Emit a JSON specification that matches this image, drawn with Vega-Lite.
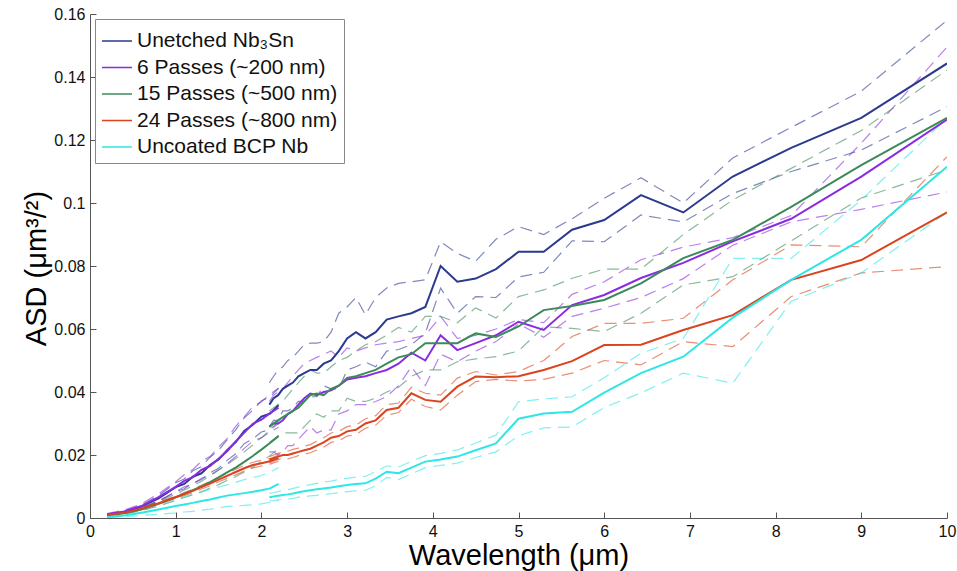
{
  "$schema": "https://vega.github.io/schema/vega-lite/v6.json",
  "width": 857,
  "height": 504,
  "autosize": {"type": "none"},
  "padding": {"left": 90, "top": 14, "right": 10, "bottom": 53},
  "background": "white",
  "config": {
    "view": {"stroke": null},
    "font": "Liberation Sans",
    "axis": {
      "grid": false,
      "domainColor": "#555555",
      "tickColor": "#555555",
      "tickSize": -6,
      "labelColor": "#111111",
      "labelFontSize": 16,
      "labelFlush": false,
      "labelOverlap": false,
      "titleColor": "#000000",
      "titleFontSize": 29,
      "titleFontWeight": "normal"
    },
    "legend": {
      "title": null,
      "orient": "top-left",
      "offset": 5,
      "padding": 6,
      "strokeColor": "#888888",
      "fillColor": "white",
      "symbolType": "stroke",
      "symbolSize": 900,
      "symbolStrokeWidth": 1.5,
      "labelFont": "Liberation Sans",
      "labelFontSize": 21,
      "labelColor": "#111111",
      "labelOffset": 4,
      "labelLimit": 400,
      "rowPadding": 0.5
    }
  },
  "data": {
    "values": [
      {"s": "Unetched Nb₃Sn", "g": "a", "x": 0.2, "m": 0.001, "u": 0.0012, "l": 0.0008},
      {"s": "Unetched Nb₃Sn", "g": "a", "x": 0.4, "m": 0.0019, "u": 0.0022, "l": 0.0016},
      {"s": "Unetched Nb₃Sn", "g": "a", "x": 0.6, "m": 0.0036, "u": 0.0041, "l": 0.0031},
      {"s": "Unetched Nb₃Sn", "g": "a", "x": 0.8, "m": 0.0062, "u": 0.0071, "l": 0.0053},
      {"s": "Unetched Nb₃Sn", "g": "a", "x": 1.0, "m": 0.0098, "u": 0.0112, "l": 0.0084},
      {"s": "Unetched Nb₃Sn", "g": "a", "x": 1.1, "m": 0.0108, "u": 0.0124, "l": 0.0093},
      {"s": "Unetched Nb₃Sn", "g": "a", "x": 1.2, "m": 0.0131, "u": 0.015, "l": 0.0111},
      {"s": "Unetched Nb₃Sn", "g": "a", "x": 1.3, "m": 0.0142, "u": 0.0163, "l": 0.0122},
      {"s": "Unetched Nb₃Sn", "g": "a", "x": 1.4, "m": 0.0168, "u": 0.0193, "l": 0.0143},
      {"s": "Unetched Nb₃Sn", "g": "a", "x": 1.5, "m": 0.0186, "u": 0.0215, "l": 0.0158},
      {"s": "Unetched Nb₃Sn", "g": "a", "x": 1.6, "m": 0.0215, "u": 0.0248, "l": 0.0183},
      {"s": "Unetched Nb₃Sn", "g": "a", "x": 1.7, "m": 0.0241, "u": 0.028, "l": 0.0204},
      {"s": "Unetched Nb₃Sn", "g": "a", "x": 1.8, "m": 0.0276, "u": 0.0318, "l": 0.0236},
      {"s": "Unetched Nb₃Sn", "g": "a", "x": 1.9, "m": 0.0296, "u": 0.0342, "l": 0.0251},
      {"s": "Unetched Nb₃Sn", "g": "a", "x": 2.0, "m": 0.0322, "u": 0.0372, "l": 0.0273},
      {"s": "Unetched Nb₃Sn", "g": "a", "x": 2.1, "m": 0.0331, "u": 0.0384, "l": 0.0281},
      {"s": "Unetched Nb₃Sn", "g": "a", "x": 2.2, "m": 0.0358, "u": 0.0412, "l": 0.0305},
      {"s": "Unetched Nb₃Sn", "g": "b", "x": 2.093, "m": 0.036, "u": 0.043, "l": 0.029},
      {"s": "Unetched Nb₃Sn", "g": "b", "x": 2.143, "m": 0.038, "u": 0.045, "l": 0.031},
      {"s": "Unetched Nb₃Sn", "g": "b", "x": 2.195, "m": 0.039, "u": 0.047, "l": 0.031},
      {"s": "Unetched Nb₃Sn", "g": "b", "x": 2.25, "m": 0.041, "u": 0.048, "l": 0.034},
      {"s": "Unetched Nb₃Sn", "g": "b", "x": 2.308, "m": 0.042, "u": 0.05, "l": 0.034},
      {"s": "Unetched Nb₃Sn", "g": "b", "x": 2.368, "m": 0.043, "u": 0.051, "l": 0.035},
      {"s": "Unetched Nb₃Sn", "g": "b", "x": 2.432, "m": 0.045, "u": 0.053, "l": 0.037},
      {"s": "Unetched Nb₃Sn", "g": "b", "x": 2.5, "m": 0.046, "u": 0.055, "l": 0.037},
      {"s": "Unetched Nb₃Sn", "g": "b", "x": 2.571, "m": 0.047, "u": 0.0555, "l": 0.0385},
      {"s": "Unetched Nb₃Sn", "g": "b", "x": 2.647, "m": 0.047, "u": 0.0555, "l": 0.0385},
      {"s": "Unetched Nb₃Sn", "g": "b", "x": 2.727, "m": 0.049, "u": 0.056, "l": 0.042},
      {"s": "Unetched Nb₃Sn", "g": "b", "x": 2.813, "m": 0.05, "u": 0.059, "l": 0.041},
      {"s": "Unetched Nb₃Sn", "g": "b", "x": 2.903, "m": 0.053, "u": 0.065, "l": 0.041},
      {"s": "Unetched Nb₃Sn", "g": "b", "x": 3.0, "m": 0.057, "u": 0.067, "l": 0.047},
      {"s": "Unetched Nb₃Sn", "g": "b", "x": 3.103, "m": 0.059, "u": 0.07, "l": 0.048},
      {"s": "Unetched Nb₃Sn", "g": "b", "x": 3.214, "m": 0.057, "u": 0.0645, "l": 0.0495},
      {"s": "Unetched Nb₃Sn", "g": "b", "x": 3.333, "m": 0.059, "u": 0.07, "l": 0.048},
      {"s": "Unetched Nb₃Sn", "g": "b", "x": 3.462, "m": 0.063, "u": 0.073, "l": 0.053},
      {"s": "Unetched Nb₃Sn", "g": "b", "x": 3.6, "m": 0.064, "u": 0.0745, "l": 0.0535},
      {"s": "Unetched Nb₃Sn", "g": "b", "x": 3.75, "m": 0.065, "u": 0.075, "l": 0.055},
      {"s": "Unetched Nb₃Sn", "g": "b", "x": 3.913, "m": 0.067, "u": 0.0756, "l": 0.0587},
      {"s": "Unetched Nb₃Sn", "g": "b", "x": 4.091, "m": 0.08, "u": 0.0877, "l": 0.073},
      {"s": "Unetched Nb₃Sn", "g": "b", "x": 4.286, "m": 0.075, "u": 0.084, "l": 0.065},
      {"s": "Unetched Nb₃Sn", "g": "b", "x": 4.5, "m": 0.076, "u": 0.0815, "l": 0.0703},
      {"s": "Unetched Nb₃Sn", "g": "b", "x": 4.737, "m": 0.079, "u": 0.0885, "l": 0.07},
      {"s": "Unetched Nb₃Sn", "g": "b", "x": 5.0, "m": 0.0845, "u": 0.0925, "l": 0.0765},
      {"s": "Unetched Nb₃Sn", "g": "b", "x": 5.294, "m": 0.0845, "u": 0.09, "l": 0.078},
      {"s": "Unetched Nb₃Sn", "g": "b", "x": 5.625, "m": 0.0915, "u": 0.095, "l": 0.088},
      {"s": "Unetched Nb₃Sn", "g": "b", "x": 6.0, "m": 0.0946, "u": 0.1015, "l": 0.0877},
      {"s": "Unetched Nb₃Sn", "g": "b", "x": 6.429, "m": 0.1025, "u": 0.108, "l": 0.0962},
      {"s": "Unetched Nb₃Sn", "g": "b", "x": 6.923, "m": 0.097, "u": 0.1, "l": 0.094},
      {"s": "Unetched Nb₃Sn", "g": "b", "x": 7.5, "m": 0.1084, "u": 0.1143, "l": 0.103},
      {"s": "Unetched Nb₃Sn", "g": "b", "x": 8.182, "m": 0.1175, "u": 0.124, "l": 0.11},
      {"s": "Unetched Nb₃Sn", "g": "b", "x": 9.0, "m": 0.127, "u": 0.1355, "l": 0.1168},
      {"s": "Unetched Nb₃Sn", "g": "b", "x": 10.0, "m": 0.1443, "u": 0.158, "l": 0.1306},

      {"s": "6 Passes (~200 nm)", "g": "a", "x": 0.2, "m": 0.0012, "u": 0.0014, "l": 0.001},
      {"s": "6 Passes (~200 nm)", "g": "a", "x": 0.4, "m": 0.0021, "u": 0.0025, "l": 0.0017},
      {"s": "6 Passes (~200 nm)", "g": "a", "x": 0.6, "m": 0.0038, "u": 0.0045, "l": 0.0031},
      {"s": "6 Passes (~200 nm)", "g": "a", "x": 0.8, "m": 0.0066, "u": 0.0077, "l": 0.0055},
      {"s": "6 Passes (~200 nm)", "g": "a", "x": 1.0, "m": 0.0099, "u": 0.0115, "l": 0.0083},
      {"s": "6 Passes (~200 nm)", "g": "a", "x": 1.1, "m": 0.0118, "u": 0.0137, "l": 0.0099},
      {"s": "6 Passes (~200 nm)", "g": "a", "x": 1.2, "m": 0.013, "u": 0.0154, "l": 0.0107},
      {"s": "6 Passes (~200 nm)", "g": "a", "x": 1.3, "m": 0.0153, "u": 0.018, "l": 0.0126},
      {"s": "6 Passes (~200 nm)", "g": "a", "x": 1.4, "m": 0.0165, "u": 0.0195, "l": 0.0136},
      {"s": "6 Passes (~200 nm)", "g": "a", "x": 1.5, "m": 0.0188, "u": 0.0225, "l": 0.0152},
      {"s": "6 Passes (~200 nm)", "g": "a", "x": 1.6, "m": 0.0212, "u": 0.0252, "l": 0.0172},
      {"s": "6 Passes (~200 nm)", "g": "a", "x": 1.7, "m": 0.0243, "u": 0.0291, "l": 0.0195},
      {"s": "6 Passes (~200 nm)", "g": "a", "x": 1.8, "m": 0.0271, "u": 0.0321, "l": 0.0221},
      {"s": "6 Passes (~200 nm)", "g": "a", "x": 1.9, "m": 0.0299, "u": 0.0354, "l": 0.0244},
      {"s": "6 Passes (~200 nm)", "g": "a", "x": 2.0, "m": 0.0312, "u": 0.0369, "l": 0.0255},
      {"s": "6 Passes (~200 nm)", "g": "a", "x": 2.1, "m": 0.0333, "u": 0.0393, "l": 0.0273},
      {"s": "6 Passes (~200 nm)", "g": "a", "x": 2.2, "m": 0.035, "u": 0.0412, "l": 0.0288},
      {"s": "6 Passes (~200 nm)", "g": "b", "x": 2.093, "m": 0.029, "u": 0.037, "l": 0.021},
      {"s": "6 Passes (~200 nm)", "g": "b", "x": 2.143, "m": 0.03, "u": 0.039, "l": 0.021},
      {"s": "6 Passes (~200 nm)", "g": "b", "x": 2.195, "m": 0.03, "u": 0.04, "l": 0.02},
      {"s": "6 Passes (~200 nm)", "g": "b", "x": 2.25, "m": 0.031, "u": 0.041, "l": 0.021},
      {"s": "6 Passes (~200 nm)", "g": "b", "x": 2.308, "m": 0.033, "u": 0.043, "l": 0.023},
      {"s": "6 Passes (~200 nm)", "g": "b", "x": 2.368, "m": 0.034, "u": 0.045, "l": 0.023},
      {"s": "6 Passes (~200 nm)", "g": "b", "x": 2.432, "m": 0.036, "u": 0.047, "l": 0.025},
      {"s": "6 Passes (~200 nm)", "g": "b", "x": 2.5, "m": 0.038, "u": 0.049, "l": 0.027},
      {"s": "6 Passes (~200 nm)", "g": "b", "x": 2.571, "m": 0.0395, "u": 0.05, "l": 0.029},
      {"s": "6 Passes (~200 nm)", "g": "b", "x": 2.647, "m": 0.039, "u": 0.051, "l": 0.027},
      {"s": "6 Passes (~200 nm)", "g": "b", "x": 2.727, "m": 0.04, "u": 0.052, "l": 0.028},
      {"s": "6 Passes (~200 nm)", "g": "b", "x": 2.813, "m": 0.0405, "u": 0.053, "l": 0.028},
      {"s": "6 Passes (~200 nm)", "g": "b", "x": 2.903, "m": 0.042, "u": 0.051, "l": 0.033},
      {"s": "6 Passes (~200 nm)", "g": "b", "x": 3.0, "m": 0.044, "u": 0.054, "l": 0.034},
      {"s": "6 Passes (~200 nm)", "g": "b", "x": 3.103, "m": 0.0445, "u": 0.053, "l": 0.036},
      {"s": "6 Passes (~200 nm)", "g": "b", "x": 3.214, "m": 0.045, "u": 0.054, "l": 0.036},
      {"s": "6 Passes (~200 nm)", "g": "b", "x": 3.333, "m": 0.046, "u": 0.055, "l": 0.037},
      {"s": "6 Passes (~200 nm)", "g": "b", "x": 3.462, "m": 0.047, "u": 0.0555, "l": 0.0385},
      {"s": "6 Passes (~200 nm)", "g": "b", "x": 3.6, "m": 0.049, "u": 0.056, "l": 0.042},
      {"s": "6 Passes (~200 nm)", "g": "b", "x": 3.75, "m": 0.0525, "u": 0.057, "l": 0.048},
      {"s": "6 Passes (~200 nm)", "g": "b", "x": 3.913, "m": 0.05, "u": 0.058, "l": 0.042},
      {"s": "6 Passes (~200 nm)", "g": "b", "x": 4.091, "m": 0.058, "u": 0.064, "l": 0.052},
      {"s": "6 Passes (~200 nm)", "g": "b", "x": 4.286, "m": 0.0533, "u": 0.057, "l": 0.0496},
      {"s": "6 Passes (~200 nm)", "g": "b", "x": 4.5, "m": 0.0555, "u": 0.058, "l": 0.053},
      {"s": "6 Passes (~200 nm)", "g": "b", "x": 4.737, "m": 0.058, "u": 0.06, "l": 0.056},
      {"s": "6 Passes (~200 nm)", "g": "b", "x": 5.0, "m": 0.0623, "u": 0.063, "l": 0.0616},
      {"s": "6 Passes (~200 nm)", "g": "b", "x": 5.294, "m": 0.0597, "u": 0.062, "l": 0.0574},
      {"s": "6 Passes (~200 nm)", "g": "b", "x": 5.625, "m": 0.0676, "u": 0.071, "l": 0.064},
      {"s": "6 Passes (~200 nm)", "g": "b", "x": 6.0, "m": 0.0708, "u": 0.075, "l": 0.0666},
      {"s": "6 Passes (~200 nm)", "g": "b", "x": 6.429, "m": 0.0762, "u": 0.082, "l": 0.07},
      {"s": "6 Passes (~200 nm)", "g": "b", "x": 6.923, "m": 0.081, "u": 0.086, "l": 0.076},
      {"s": "6 Passes (~200 nm)", "g": "b", "x": 7.5, "m": 0.0878, "u": 0.089, "l": 0.0866},
      {"s": "6 Passes (~200 nm)", "g": "b", "x": 8.182, "m": 0.095, "u": 0.096, "l": 0.094},
      {"s": "6 Passes (~200 nm)", "g": "b", "x": 9.0, "m": 0.1084, "u": 0.119, "l": 0.098},
      {"s": "6 Passes (~200 nm)", "g": "b", "x": 10.0, "m": 0.1265, "u": 0.1495, "l": 0.1035},

      {"s": "15 Passes (~500 nm)", "g": "a", "x": 0.2, "m": 0.0008, "u": 0.0009, "l": 0.0007},
      {"s": "15 Passes (~500 nm)", "g": "a", "x": 0.4, "m": 0.0015, "u": 0.0017, "l": 0.0013},
      {"s": "15 Passes (~500 nm)", "g": "a", "x": 0.6, "m": 0.0027, "u": 0.0031, "l": 0.0023},
      {"s": "15 Passes (~500 nm)", "g": "a", "x": 0.8, "m": 0.0045, "u": 0.0052, "l": 0.0038},
      {"s": "15 Passes (~500 nm)", "g": "a", "x": 1.0, "m": 0.0066, "u": 0.0076, "l": 0.0056},
      {"s": "15 Passes (~500 nm)", "g": "a", "x": 1.1, "m": 0.0077, "u": 0.0089, "l": 0.0065},
      {"s": "15 Passes (~500 nm)", "g": "a", "x": 1.2, "m": 0.0088, "u": 0.0102, "l": 0.0074},
      {"s": "15 Passes (~500 nm)", "g": "a", "x": 1.3, "m": 0.01, "u": 0.0117, "l": 0.0083},
      {"s": "15 Passes (~500 nm)", "g": "a", "x": 1.4, "m": 0.0114, "u": 0.0133, "l": 0.0095},
      {"s": "15 Passes (~500 nm)", "g": "a", "x": 1.5, "m": 0.0129, "u": 0.0152, "l": 0.0106},
      {"s": "15 Passes (~500 nm)", "g": "a", "x": 1.6, "m": 0.0145, "u": 0.017, "l": 0.012},
      {"s": "15 Passes (~500 nm)", "g": "a", "x": 1.7, "m": 0.016, "u": 0.0189, "l": 0.0131},
      {"s": "15 Passes (~500 nm)", "g": "a", "x": 1.8, "m": 0.0178, "u": 0.021, "l": 0.0146},
      {"s": "15 Passes (~500 nm)", "g": "a", "x": 1.9, "m": 0.0197, "u": 0.0232, "l": 0.0162},
      {"s": "15 Passes (~500 nm)", "g": "a", "x": 2.0, "m": 0.0217, "u": 0.0255, "l": 0.0179},
      {"s": "15 Passes (~500 nm)", "g": "a", "x": 2.1, "m": 0.0238, "u": 0.0278, "l": 0.0198},
      {"s": "15 Passes (~500 nm)", "g": "a", "x": 2.2, "m": 0.026, "u": 0.03, "l": 0.022},
      {"s": "15 Passes (~500 nm)", "g": "b", "x": 2.093, "m": 0.029, "u": 0.034, "l": 0.024},
      {"s": "15 Passes (~500 nm)", "g": "b", "x": 2.143, "m": 0.03, "u": 0.035, "l": 0.025},
      {"s": "15 Passes (~500 nm)", "g": "b", "x": 2.195, "m": 0.031, "u": 0.036, "l": 0.026},
      {"s": "15 Passes (~500 nm)", "g": "b", "x": 2.25, "m": 0.032, "u": 0.037, "l": 0.027},
      {"s": "15 Passes (~500 nm)", "g": "b", "x": 2.308, "m": 0.033, "u": 0.039, "l": 0.027},
      {"s": "15 Passes (~500 nm)", "g": "b", "x": 2.368, "m": 0.034, "u": 0.041, "l": 0.027},
      {"s": "15 Passes (~500 nm)", "g": "b", "x": 2.432, "m": 0.035, "u": 0.043, "l": 0.027},
      {"s": "15 Passes (~500 nm)", "g": "b", "x": 2.5, "m": 0.037, "u": 0.045, "l": 0.029},
      {"s": "15 Passes (~500 nm)", "g": "b", "x": 2.571, "m": 0.039, "u": 0.047, "l": 0.031},
      {"s": "15 Passes (~500 nm)", "g": "b", "x": 2.647, "m": 0.0395, "u": 0.046, "l": 0.033},
      {"s": "15 Passes (~500 nm)", "g": "b", "x": 2.727, "m": 0.039, "u": 0.046, "l": 0.032},
      {"s": "15 Passes (~500 nm)", "g": "b", "x": 2.813, "m": 0.041, "u": 0.048, "l": 0.034},
      {"s": "15 Passes (~500 nm)", "g": "b", "x": 2.903, "m": 0.042, "u": 0.05, "l": 0.034},
      {"s": "15 Passes (~500 nm)", "g": "b", "x": 3.0, "m": 0.0445, "u": 0.051, "l": 0.038},
      {"s": "15 Passes (~500 nm)", "g": "b", "x": 3.103, "m": 0.045, "u": 0.053, "l": 0.037},
      {"s": "15 Passes (~500 nm)", "g": "b", "x": 3.214, "m": 0.046, "u": 0.055, "l": 0.037},
      {"s": "15 Passes (~500 nm)", "g": "b", "x": 3.333, "m": 0.047, "u": 0.056, "l": 0.038},
      {"s": "15 Passes (~500 nm)", "g": "b", "x": 3.462, "m": 0.049, "u": 0.058, "l": 0.04},
      {"s": "15 Passes (~500 nm)", "g": "b", "x": 3.6, "m": 0.051, "u": 0.0605, "l": 0.0415},
      {"s": "15 Passes (~500 nm)", "g": "b", "x": 3.75, "m": 0.052, "u": 0.059, "l": 0.045},
      {"s": "15 Passes (~500 nm)", "g": "b", "x": 3.913, "m": 0.0555, "u": 0.064, "l": 0.047},
      {"s": "15 Passes (~500 nm)", "g": "b", "x": 4.091, "m": 0.0555, "u": 0.064, "l": 0.047},
      {"s": "15 Passes (~500 nm)", "g": "b", "x": 4.286, "m": 0.0555, "u": 0.062, "l": 0.0496},
      {"s": "15 Passes (~500 nm)", "g": "b", "x": 4.5, "m": 0.0586, "u": 0.0667, "l": 0.0505},
      {"s": "15 Passes (~500 nm)", "g": "b", "x": 4.737, "m": 0.0575, "u": 0.0635, "l": 0.0512},
      {"s": "15 Passes (~500 nm)", "g": "b", "x": 5.0, "m": 0.0608, "u": 0.0703, "l": 0.053},
      {"s": "15 Passes (~500 nm)", "g": "b", "x": 5.294, "m": 0.066, "u": 0.0724, "l": 0.0607},
      {"s": "15 Passes (~500 nm)", "g": "b", "x": 5.625, "m": 0.0673, "u": 0.0761, "l": 0.0602},
      {"s": "15 Passes (~500 nm)", "g": "b", "x": 6.0, "m": 0.0692, "u": 0.079, "l": 0.0592},
      {"s": "15 Passes (~500 nm)", "g": "b", "x": 6.429, "m": 0.0745, "u": 0.079, "l": 0.065},
      {"s": "15 Passes (~500 nm)", "g": "b", "x": 6.923, "m": 0.0825, "u": 0.09, "l": 0.074},
      {"s": "15 Passes (~500 nm)", "g": "b", "x": 7.5, "m": 0.0883, "u": 0.101, "l": 0.0766},
      {"s": "15 Passes (~500 nm)", "g": "b", "x": 8.182, "m": 0.0988, "u": 0.111, "l": 0.088},
      {"s": "15 Passes (~500 nm)", "g": "b", "x": 9.0, "m": 0.112, "u": 0.123, "l": 0.1016},
      {"s": "15 Passes (~500 nm)", "g": "b", "x": 10.0, "m": 0.127, "u": 0.1422, "l": 0.1105},

      {"s": "24 Passes (~800 nm)", "g": "a", "x": 0.2, "m": 0.001, "u": 0.0011, "l": 0.0009},
      {"s": "24 Passes (~800 nm)", "g": "a", "x": 0.4, "m": 0.0017, "u": 0.0018, "l": 0.0016},
      {"s": "24 Passes (~800 nm)", "g": "a", "x": 0.6, "m": 0.003, "u": 0.0032, "l": 0.0028},
      {"s": "24 Passes (~800 nm)", "g": "a", "x": 0.8, "m": 0.0047, "u": 0.005, "l": 0.0044},
      {"s": "24 Passes (~800 nm)", "g": "a", "x": 1.0, "m": 0.0066, "u": 0.007, "l": 0.0062},
      {"s": "24 Passes (~800 nm)", "g": "a", "x": 1.1, "m": 0.0076, "u": 0.0081, "l": 0.0071},
      {"s": "24 Passes (~800 nm)", "g": "a", "x": 1.2, "m": 0.0086, "u": 0.0092, "l": 0.008},
      {"s": "24 Passes (~800 nm)", "g": "a", "x": 1.3, "m": 0.0098, "u": 0.0104, "l": 0.0092},
      {"s": "24 Passes (~800 nm)", "g": "a", "x": 1.4, "m": 0.0109, "u": 0.0116, "l": 0.0102},
      {"s": "24 Passes (~800 nm)", "g": "a", "x": 1.5, "m": 0.0122, "u": 0.0129, "l": 0.0115},
      {"s": "24 Passes (~800 nm)", "g": "a", "x": 1.6, "m": 0.0134, "u": 0.0142, "l": 0.0126},
      {"s": "24 Passes (~800 nm)", "g": "a", "x": 1.7, "m": 0.0146, "u": 0.0155, "l": 0.0137},
      {"s": "24 Passes (~800 nm)", "g": "a", "x": 1.8, "m": 0.0158, "u": 0.0167, "l": 0.0149},
      {"s": "24 Passes (~800 nm)", "g": "a", "x": 1.9, "m": 0.0168, "u": 0.0177, "l": 0.0159},
      {"s": "24 Passes (~800 nm)", "g": "a", "x": 2.0, "m": 0.0174, "u": 0.0183, "l": 0.0165},
      {"s": "24 Passes (~800 nm)", "g": "a", "x": 2.1, "m": 0.018, "u": 0.0189, "l": 0.0171},
      {"s": "24 Passes (~800 nm)", "g": "a", "x": 2.2, "m": 0.019, "u": 0.02, "l": 0.018},
      {"s": "24 Passes (~800 nm)", "g": "b", "x": 2.093, "m": 0.0185, "u": 0.0195, "l": 0.0175},
      {"s": "24 Passes (~800 nm)", "g": "b", "x": 2.143, "m": 0.019, "u": 0.02, "l": 0.018},
      {"s": "24 Passes (~800 nm)", "g": "b", "x": 2.195, "m": 0.0195, "u": 0.0205, "l": 0.0185},
      {"s": "24 Passes (~800 nm)", "g": "b", "x": 2.25, "m": 0.02, "u": 0.021, "l": 0.019},
      {"s": "24 Passes (~800 nm)", "g": "b", "x": 2.308, "m": 0.02, "u": 0.0212, "l": 0.0188},
      {"s": "24 Passes (~800 nm)", "g": "b", "x": 2.368, "m": 0.0205, "u": 0.0218, "l": 0.0192},
      {"s": "24 Passes (~800 nm)", "g": "b", "x": 2.432, "m": 0.021, "u": 0.0222, "l": 0.0198},
      {"s": "24 Passes (~800 nm)", "g": "b", "x": 2.5, "m": 0.0215, "u": 0.0228, "l": 0.0202},
      {"s": "24 Passes (~800 nm)", "g": "b", "x": 2.571, "m": 0.022, "u": 0.0233, "l": 0.0207},
      {"s": "24 Passes (~800 nm)", "g": "b", "x": 2.647, "m": 0.023, "u": 0.0244, "l": 0.0216},
      {"s": "24 Passes (~800 nm)", "g": "b", "x": 2.727, "m": 0.024, "u": 0.0255, "l": 0.0225},
      {"s": "24 Passes (~800 nm)", "g": "b", "x": 2.813, "m": 0.0255, "u": 0.027, "l": 0.024},
      {"s": "24 Passes (~800 nm)", "g": "b", "x": 2.903, "m": 0.026, "u": 0.0275, "l": 0.0245},
      {"s": "24 Passes (~800 nm)", "g": "b", "x": 3.0, "m": 0.0275, "u": 0.029, "l": 0.026},
      {"s": "24 Passes (~800 nm)", "g": "b", "x": 3.103, "m": 0.028, "u": 0.0295, "l": 0.0265},
      {"s": "24 Passes (~800 nm)", "g": "b", "x": 3.214, "m": 0.03, "u": 0.0315, "l": 0.0285},
      {"s": "24 Passes (~800 nm)", "g": "b", "x": 3.333, "m": 0.031, "u": 0.0325, "l": 0.0295},
      {"s": "24 Passes (~800 nm)", "g": "b", "x": 3.462, "m": 0.0343, "u": 0.036, "l": 0.0326},
      {"s": "24 Passes (~800 nm)", "g": "b", "x": 3.6, "m": 0.035, "u": 0.0365, "l": 0.0335},
      {"s": "24 Passes (~800 nm)", "g": "b", "x": 3.75, "m": 0.0396, "u": 0.0415, "l": 0.0377},
      {"s": "24 Passes (~800 nm)", "g": "b", "x": 3.913, "m": 0.0375, "u": 0.0396, "l": 0.0354},
      {"s": "24 Passes (~800 nm)", "g": "b", "x": 4.091, "m": 0.0369, "u": 0.039, "l": 0.0343},
      {"s": "24 Passes (~800 nm)", "g": "b", "x": 4.286, "m": 0.0417, "u": 0.0444, "l": 0.039},
      {"s": "24 Passes (~800 nm)", "g": "b", "x": 4.5, "m": 0.0449, "u": 0.0465, "l": 0.0433},
      {"s": "24 Passes (~800 nm)", "g": "b", "x": 4.737, "m": 0.0447, "u": 0.0454, "l": 0.044},
      {"s": "24 Passes (~800 nm)", "g": "b", "x": 5.0, "m": 0.045, "u": 0.0465, "l": 0.0435},
      {"s": "24 Passes (~800 nm)", "g": "b", "x": 5.294, "m": 0.047, "u": 0.05, "l": 0.044},
      {"s": "24 Passes (~800 nm)", "g": "b", "x": 5.625, "m": 0.0498, "u": 0.0576, "l": 0.046},
      {"s": "24 Passes (~800 nm)", "g": "b", "x": 6.0, "m": 0.0549, "u": 0.0618, "l": 0.05},
      {"s": "24 Passes (~800 nm)", "g": "b", "x": 6.429, "m": 0.055, "u": 0.0618, "l": 0.0486},
      {"s": "24 Passes (~800 nm)", "g": "b", "x": 6.923, "m": 0.0597, "u": 0.0634, "l": 0.056},
      {"s": "24 Passes (~800 nm)", "g": "b", "x": 7.5, "m": 0.0644, "u": 0.0756, "l": 0.0544},
      {"s": "24 Passes (~800 nm)", "g": "b", "x": 8.182, "m": 0.0756, "u": 0.0867, "l": 0.0703},
      {"s": "24 Passes (~800 nm)", "g": "b", "x": 9.0, "m": 0.0819, "u": 0.0861, "l": 0.0778},
      {"s": "24 Passes (~800 nm)", "g": "b", "x": 10.0, "m": 0.097, "u": 0.1147, "l": 0.0798},

      {"s": "Uncoated BCP Nb", "g": "a", "x": 0.2, "m": 0.0003, "u": 0.0005, "l": 0.0001},
      {"s": "Uncoated BCP Nb", "g": "a", "x": 0.4, "m": 0.0008, "u": 0.0012, "l": 0.0004},
      {"s": "Uncoated BCP Nb", "g": "a", "x": 0.6, "m": 0.0017, "u": 0.0026, "l": 0.0008},
      {"s": "Uncoated BCP Nb", "g": "a", "x": 0.8, "m": 0.0027, "u": 0.0042, "l": 0.0012},
      {"s": "Uncoated BCP Nb", "g": "a", "x": 1.0, "m": 0.0038, "u": 0.006, "l": 0.0016},
      {"s": "Uncoated BCP Nb", "g": "a", "x": 1.1, "m": 0.0043, "u": 0.0067, "l": 0.0019},
      {"s": "Uncoated BCP Nb", "g": "a", "x": 1.2, "m": 0.0048, "u": 0.0075, "l": 0.0021},
      {"s": "Uncoated BCP Nb", "g": "a", "x": 1.3, "m": 0.0054, "u": 0.0083, "l": 0.0025},
      {"s": "Uncoated BCP Nb", "g": "a", "x": 1.4, "m": 0.0059, "u": 0.009, "l": 0.0028},
      {"s": "Uncoated BCP Nb", "g": "a", "x": 1.5, "m": 0.0065, "u": 0.0098, "l": 0.0032},
      {"s": "Uncoated BCP Nb", "g": "a", "x": 1.6, "m": 0.0071, "u": 0.0105, "l": 0.0037},
      {"s": "Uncoated BCP Nb", "g": "a", "x": 1.7, "m": 0.0075, "u": 0.0113, "l": 0.0038},
      {"s": "Uncoated BCP Nb", "g": "a", "x": 1.8, "m": 0.0079, "u": 0.0122, "l": 0.004},
      {"s": "Uncoated BCP Nb", "g": "a", "x": 1.9, "m": 0.0083, "u": 0.0128, "l": 0.0042},
      {"s": "Uncoated BCP Nb", "g": "a", "x": 2.0, "m": 0.0088, "u": 0.0135, "l": 0.0045},
      {"s": "Uncoated BCP Nb", "g": "a", "x": 2.1, "m": 0.0094, "u": 0.0145, "l": 0.005},
      {"s": "Uncoated BCP Nb", "g": "a", "x": 2.2, "m": 0.0108, "u": 0.016, "l": 0.0056},
      {"s": "Uncoated BCP Nb", "g": "b", "x": 2.093, "m": 0.0066, "u": 0.0078, "l": 0.0054},
      {"s": "Uncoated BCP Nb", "g": "b", "x": 2.143, "m": 0.0068, "u": 0.0081, "l": 0.0055},
      {"s": "Uncoated BCP Nb", "g": "b", "x": 2.195, "m": 0.0071, "u": 0.0084, "l": 0.0058},
      {"s": "Uncoated BCP Nb", "g": "b", "x": 2.25, "m": 0.0073, "u": 0.0087, "l": 0.0059},
      {"s": "Uncoated BCP Nb", "g": "b", "x": 2.308, "m": 0.0075, "u": 0.009, "l": 0.006},
      {"s": "Uncoated BCP Nb", "g": "b", "x": 2.368, "m": 0.0078, "u": 0.0094, "l": 0.0062},
      {"s": "Uncoated BCP Nb", "g": "b", "x": 2.432, "m": 0.0082, "u": 0.0098, "l": 0.0066},
      {"s": "Uncoated BCP Nb", "g": "b", "x": 2.5, "m": 0.0085, "u": 0.0102, "l": 0.0068},
      {"s": "Uncoated BCP Nb", "g": "b", "x": 2.571, "m": 0.0088, "u": 0.0106, "l": 0.007},
      {"s": "Uncoated BCP Nb", "g": "b", "x": 2.647, "m": 0.0091, "u": 0.011, "l": 0.0072},
      {"s": "Uncoated BCP Nb", "g": "b", "x": 2.727, "m": 0.0094, "u": 0.0114, "l": 0.0074},
      {"s": "Uncoated BCP Nb", "g": "b", "x": 2.813, "m": 0.0097, "u": 0.0117, "l": 0.0077},
      {"s": "Uncoated BCP Nb", "g": "b", "x": 2.903, "m": 0.0101, "u": 0.0122, "l": 0.008},
      {"s": "Uncoated BCP Nb", "g": "b", "x": 3.0, "m": 0.0105, "u": 0.0126, "l": 0.0084},
      {"s": "Uncoated BCP Nb", "g": "b", "x": 3.103, "m": 0.0108, "u": 0.013, "l": 0.0086},
      {"s": "Uncoated BCP Nb", "g": "b", "x": 3.214, "m": 0.011, "u": 0.0132, "l": 0.0088},
      {"s": "Uncoated BCP Nb", "g": "b", "x": 3.333, "m": 0.0125, "u": 0.0148, "l": 0.0102},
      {"s": "Uncoated BCP Nb", "g": "b", "x": 3.462, "m": 0.0147, "u": 0.0165, "l": 0.0129},
      {"s": "Uncoated BCP Nb", "g": "b", "x": 3.6, "m": 0.0142, "u": 0.0162, "l": 0.0122},
      {"s": "Uncoated BCP Nb", "g": "b", "x": 3.75, "m": 0.016, "u": 0.018, "l": 0.014},
      {"s": "Uncoated BCP Nb", "g": "b", "x": 3.913, "m": 0.0179, "u": 0.0198, "l": 0.016},
      {"s": "Uncoated BCP Nb", "g": "b", "x": 4.091, "m": 0.0186, "u": 0.0205, "l": 0.0167},
      {"s": "Uncoated BCP Nb", "g": "b", "x": 4.286, "m": 0.0195, "u": 0.0216, "l": 0.0174},
      {"s": "Uncoated BCP Nb", "g": "b", "x": 4.5, "m": 0.0215, "u": 0.0238, "l": 0.0192},
      {"s": "Uncoated BCP Nb", "g": "b", "x": 4.737, "m": 0.0237, "u": 0.0263, "l": 0.021},
      {"s": "Uncoated BCP Nb", "g": "b", "x": 5.0, "m": 0.0315, "u": 0.0369, "l": 0.0261},
      {"s": "Uncoated BCP Nb", "g": "b", "x": 5.294, "m": 0.0332, "u": 0.0378, "l": 0.0286},
      {"s": "Uncoated BCP Nb", "g": "b", "x": 5.625, "m": 0.0337, "u": 0.0385, "l": 0.0289},
      {"s": "Uncoated BCP Nb", "g": "b", "x": 6.0, "m": 0.0398, "u": 0.0445, "l": 0.0351},
      {"s": "Uncoated BCP Nb", "g": "b", "x": 6.429, "m": 0.046, "u": 0.0523, "l": 0.0397},
      {"s": "Uncoated BCP Nb", "g": "b", "x": 6.923, "m": 0.0512, "u": 0.057, "l": 0.046},
      {"s": "Uncoated BCP Nb", "g": "b", "x": 7.5, "m": 0.0636, "u": 0.0824, "l": 0.0428},
      {"s": "Uncoated BCP Nb", "g": "b", "x": 8.182, "m": 0.0756, "u": 0.0824, "l": 0.0688},
      {"s": "Uncoated BCP Nb", "g": "b", "x": 9.0, "m": 0.0883, "u": 0.101, "l": 0.0778},
      {"s": "Uncoated BCP Nb", "g": "b", "x": 10.0, "m": 0.1115, "u": 0.127, "l": 0.097}
    ]
  },
  "encoding": {
    "x": {
      "field": "x", "type": "quantitative",
      "scale": {"domain": [0, 10], "nice": false, "zero": false},
      "axis": {
        "title": "Wavelength (μm)",
        "values": [0, 1, 2, 3, 4, 5, 6, 7, 8, 9, 10],
        "format": "d",
        "labelPadding": 11,
        "titleY": 46,
        "titleBaseline": "alphabetic"
      }
    },
    "color": {
      "field": "s", "type": "nominal",
      "scale": {
        "domain": ["Unetched Nb₃Sn", "6 Passes (~200 nm)", "15 Passes (~500 nm)", "24 Passes (~800 nm)", "Uncoated BCP Nb"],
        "range": ["#2B3A8E", "#8A2BE2", "#3B8A58", "#D9431E", "#2EE6E6"]
      },
      "legend": {
        "encode": {
          "symbols": {
            "update": {
              "strokeDash": {"value": []},
              "opacity": {"value": 1},
              "strokeWidth": {"value": 1.5}
            }
          }
        }
      }
    }
  },
  "layer": [
    {
      "transform": [{"fold": ["u", "l"], "as": ["bound", "v"]}],
      "mark": {"type": "line", "strokeDash": [12, 7], "strokeWidth": 1.2, "opacity": 0.6, "clip": true},
      "encoding": {
        "y": {
          "field": "v", "type": "quantitative",
          "scale": {"domain": [0, 0.16], "nice": false},
          "axis": {
            "title": "ASD (μm³/²)",
            "values": [0, 0.02, 0.04, 0.06, 0.08, 0.1, 0.12, 0.14, 0.16],
            "format": ".2~f",
            "labelPadding": 11,
            "titleAngle": -90,
            "titleX": -45,
            "titleY": 254,
            "titleAlign": "center",
            "titleBaseline": "alphabetic"
          }
        },
        "detail": [{"field": "bound"}, {"field": "g"}]
      }
    },
    {
      "mark": {"type": "line", "strokeWidth": 2, "clip": true},
      "encoding": {
        "y": {"field": "m", "type": "quantitative"},
        "detail": {"field": "g"}
      }
    }
  ]
}
